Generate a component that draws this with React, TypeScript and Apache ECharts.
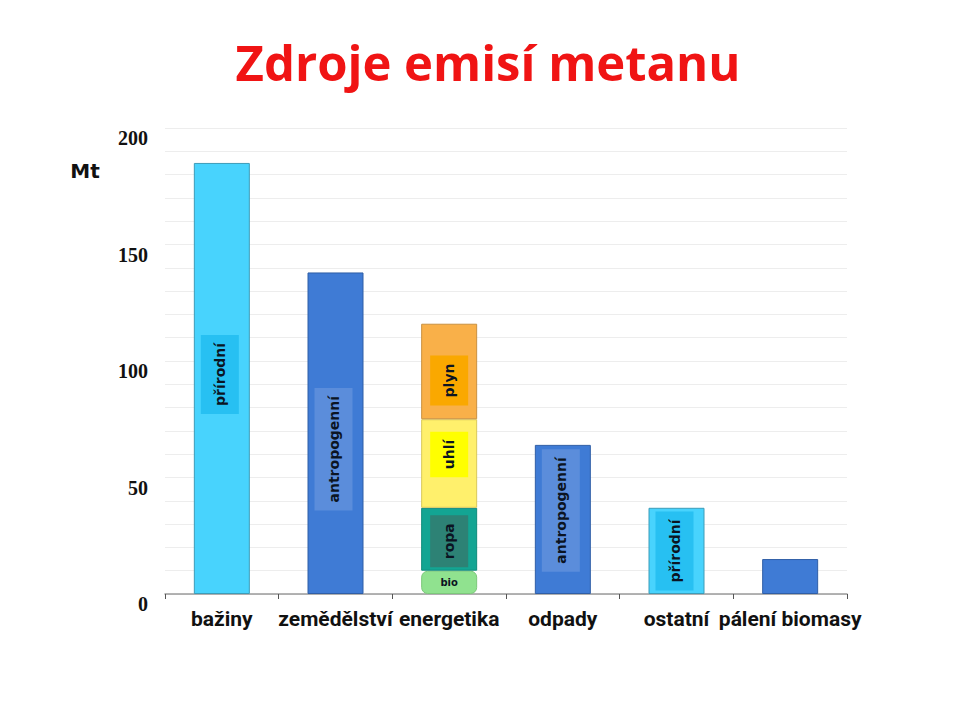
import React, { useEffect, useRef } from "react";
import * as echarts from "echarts";

const categories = ["bažiny", "zemědělství", "energetika", "odpady", "ostatní", "pálení biomasy"];
const mainValues: (number | null)[] = [185, 138, null, 64, 37, 15];
const mainLabels = ["přírodní", "antropogenní", "", "antropogenní", "přírodní", ""];
const energyIndex = 2;
const energyNames = ["bio", "ropa", "uhlí", "plyn"];
const energyValues = [10, 27, 38, 41];
const yTicks = [0, 50, 100, 150, 200];

const NATURAL = { fill: "#48d3fd", border: "#3d9cb8", labelBg: "#27c0f2" };
const ANTHRO = { fill: "#3f7bd5", border: "#2f5ea6", labelBg: "#5b8ddb" };
const mainStyles = [NATURAL, ANTHRO, null, ANTHRO, NATURAL, ANTHRO];
// offsets are in the rotated text frame: [-d, 0] moves the label down by d
const labelOffsets = [[4, -2], [-16, -2], [0, 0], [9, -2], [0, -2], [0, 0]];

const energyStyles = [
  { fill: "#90e28f", border: "#7cc87a", labelBg: "transparent" },
  { fill: "#13a593", border: "#0f8a7b", labelBg: "#2d8275" },
  { fill: "#fff06c", border: "#d9c85a", labelBg: "#ffff00" },
  { fill: "#f9b049", border: "#c99040", labelBg: "#faa800" },
];
const energyOffsets = [[0, 0], [-2, 0], [9, 0], [-9, 0]];

export default function App() {
  const ref = useRef<HTMLDivElement>(null);
  useEffect(() => {
    if (!ref.current) return;
    const chart = echarts.init(ref.current, null, { renderer: "svg" });

    const labelFont = {
      fontFamily: "'DejaVu Sans', Verdana, sans-serif",
      fontWeight: "bold" as const,
      fontSize: 14,
      color: "#0b1422",
    };

    const mainData = mainValues.map((v, i) => {
      if (v === null) return "-";
      const st = mainStyles[i]!;
      const item: any = {
        value: v,
        itemStyle: { color: st.fill, borderColor: st.border, borderWidth: 1 },
      };
      if (mainLabels[i]) {
        item.label = {
          show: true,
          position: "inside",
          rotate: 90,
          formatter: mainLabels[i],
          backgroundColor: st.labelBg,
          padding: [12, 8],
          offset: labelOffsets[i],
          ...labelFont,
        };
      } else {
        item.label = { show: false };
      }
      return item;
    });

    const energySeries = energyNames.map((name, k) => {
      const st = energyStyles[k];
      const data = categories.map((_, i) => {
        if (i !== energyIndex) return "-";
        const isBio = k === 0;
        return {
          value: energyValues[k],
          itemStyle: {
            color: st.fill,
            borderColor: st.border,
            borderWidth: 1,
            borderRadius: isBio ? 6 : 0,
          },
          label: isBio
            ? {
                show: true,
                position: "inside",
                formatter: name,
                ...labelFont,
                fontSize: 10,
              }
            : {
                show: true,
                position: "inside",
                rotate: 90,
                formatter: name,
                backgroundColor: st.labelBg,
                padding: [12, 8],
                offset: energyOffsets[k],
                ...labelFont,
              },
        };
      });
      return {
        name,
        type: "bar",
        stack: "total",
        barWidth: 56,
        data,
      };
    });

    chart.setOption({
      animation: false,
      backgroundColor: "#ffffff",
      grid: { left: 157, right: 105, top: 120, bottom: 118, containLabel: false },
      graphic: [
        {
          type: "text",
          x: 480,
          y: 54,
          style: {
            text: "Zdroje emisí metanu",
            fill: "#f01414",
            font: "bold 49px 'Open Sans', sans-serif",
            textAlign: "center",
            textVerticalAlign: "middle",
            shadowColor: "rgba(0,0,0,0.35)",
            shadowBlur: 2,
            shadowOffsetX: 2,
            shadowOffsetY: 2,
          },
        },
        {
          type: "text",
          x: 77,
          y: 163,
          style: {
            text: "Mt",
            fill: "#111111",
            font: "bold 20px 'DejaVu Sans', sans-serif",
            textAlign: "center",
            textVerticalAlign: "middle",
          },
        },
      ],
      xAxis: {
        type: "category",
        data: categories,
        axisLine: { show: true, lineStyle: { color: "#9a9a9a", width: 1.5 } },
        axisTick: { show: true, length: 5, lineStyle: { color: "#555555" } },
        axisLabel: {
          interval: 0,
          margin: 14,
          fontFamily: "Roboto, 'Liberation Sans', sans-serif",
          fontWeight: "bold",
          fontSize: 21,
          color: "#111111",
        },
      },
      yAxis: {
        type: "value",
        min: 0,
        max: 200,
        interval: 10,
        axisLine: { show: false },
        axisTick: { show: false },
        splitLine: { show: true, lineStyle: { color: "#ededed", width: 1 } },
        axisLabel: {
          margin: 17,
          verticalAlign: "top",
          lineHeight: 20,
          fontFamily: "'Liberation Serif', 'Times New Roman', serif",
          fontWeight: "bold",
          fontSize: 20,
          color: "#111111",
          formatter: (v: number) => (yTicks.includes(v) ? String(v) : ""),
        },
      },
      series: [
        {
          name: "main",
          type: "bar",
          stack: "total",
          barWidth: 56,
          data: mainData,
        },
        ...energySeries,
      ],
    });

    return () => chart.dispose();
  }, []);

  return <div ref={ref} style={{ width: 944, height: 704 }} />;
}
